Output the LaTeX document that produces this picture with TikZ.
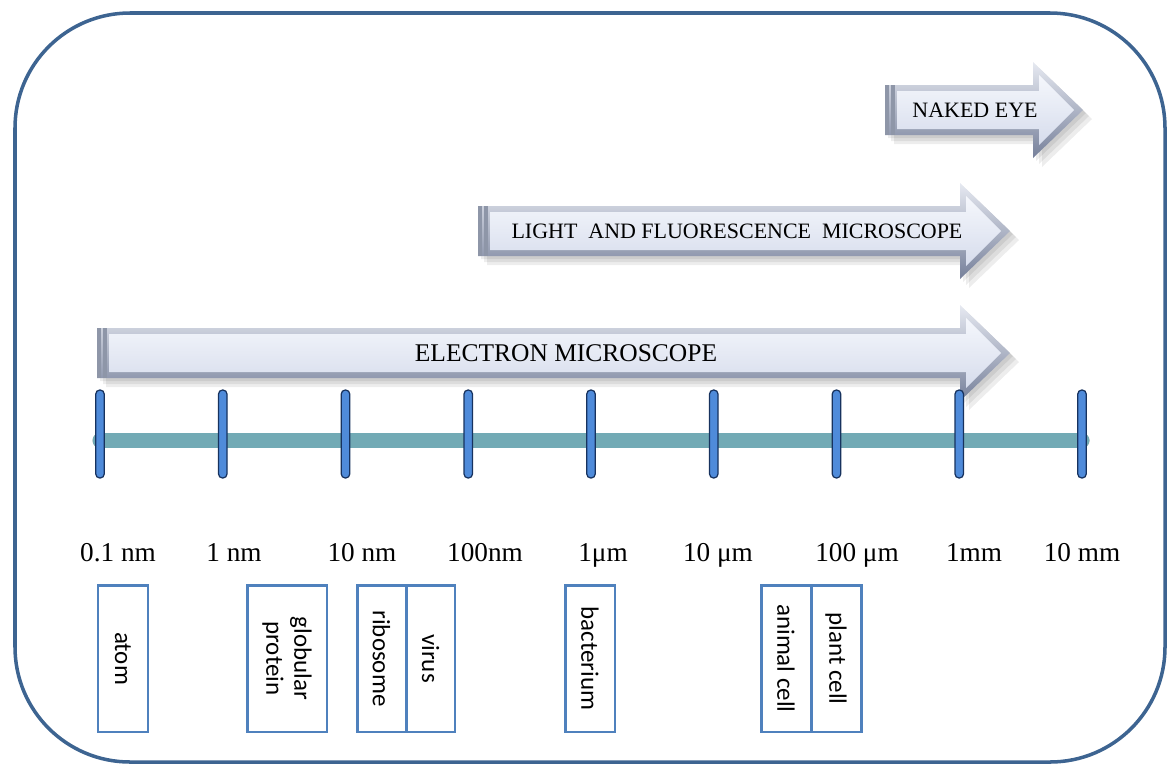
\documentclass[tikz,border=0pt]{standalone}
\usepackage{fontspec}
\setmainfont{Liberation Serif}
\newfontfamily\boxfont{Carlito}
\usetikzlibrary{calc}

\definecolor{framecol}{HTML}{3D6491}
\definecolor{barcol}{HTML}{72AAB5}
\definecolor{tickfill}{HTML}{4F8BDA}
\definecolor{tickdraw}{HTML}{17325E}
\definecolor{boxcol}{HTML}{4F81BD}
\definecolor{bevdark}{HTML}{76809A}
\definecolor{bevlight}{HTML}{E6E9F1}
\definecolor{facetop}{HTML}{F5F7FC}
\definecolor{facebot}{HTML}{D6DCEC}
\definecolor{stripe}{HTML}{8E96A8}

\tikzset{
  outerframe/.style={draw=framecol, line width=2pt, rounded corners=2.3cm},
  scalebar/.style={draw=barcol, line width=0.3cm, line cap=round},
  scaletick/.style={draw=tickdraw, fill=tickfill, line width=0.7pt, rounded corners=0.08cm,
    minimum width=0.17cm, minimum height=1.76cm, inner sep=0},
  scalelabel/.style={font=\fontsize{15.5}{18}\selectfont, inner sep=0, anchor=base},
  cellbox/.style={draw=boxcol, line width=1.7pt, rotate=-90, minimum width=2.94cm,
    inner sep=0, align=center, font=\boxfont\fontsize{14.2}{16}\selectfont},
  arrowtext/.style={font=\fontsize{12.5}{14}\selectfont, inner sep=0}
}

% outline of a block arrow: left end, head back, tip, centre line
\newcommand{\arrowshape}[4]{(#1,#4-25) -- (#2,#4-25) -- (#2,#4-48) -- (#3,#4)
  -- (#2,#4+48) -- (#2,#4+25) -- (#1,#4+25) -- cycle}

% bevelled arrow: left, head back, tip, centre y, name, text, text x
\newcommand{\bevelarrow}[7]{%
  \foreach \s in {3,6,9}
    \fill[black, opacity=0.07, shift={(\s,\s)}] \arrowshape{#1}{#2}{#3}{#4};
  \shade[top color=bevlight, bottom color=bevdark] \arrowshape{#1}{#2}{#3}{#4};
  \shade[top color=facetop, bottom color=facebot] ({#1+12},#4-19) -- ({#2+6},#4-19)
    -- ({#2+6},#4-35) -- ({#3-9},#4) -- ({#2+6},#4+35) -- ({#2+6},#4+19)
    -- ({#1+12},#4+19) -- cycle;
  \fill[stripe] (#1,#4-25) rectangle ({#1+4},#4+25);
  \fill[stripe] ({#1+6},#4-25) rectangle ({#1+10},#4+25);
  \node[arrowtext] (#5) at (#7,#4) {#6};
}

\begin{document}
\begin{tikzpicture}[x=0.02cm, y=-0.02cm]
    \useasboundingbox (0,0) rectangle (1169,765);

    % Frame
    \draw[outerframe] (15,13) rectangle (1165,762);

    % Arrows
    \bevelarrow{885}{1033}{1083}{110}{eye}{NAKED EYE}{975}
    \bevelarrow{478}{960}{1010}{231}{light}{LIGHT\ \ AND FLUORESCENCE\ \ MICROSCOPE}{737}
    \bevelarrow{97}{960}{1010}{353}{electron}{\fontsize{14.5}{16}\selectfont ELECTRON MICROSCOPE}{566}

    % Axis
    \coordinate (a0) at (100,440.5);
    \coordinate (a1) at (1082,440.5);
    \draw[scalebar, draw=brown!60!gray, opacity=0.5, shift={(0,4)}] (a0) -- (a1);
    \draw[scalebar] (a0) -- (a1);
    \foreach \i in {1,...,9}
        \node[scaletick] (t\i) at ({100+122.75*(\i-1)},434) {};

    % Labels
    \foreach \n/\x/\t in {l1/118/0.1 nm, l2/234/1 nm, l3/362/10 nm, l4/485/100nm,
        l5/603/1μm, l6/718/10 μm, l7/857/100 μm, l8/974/1mm, l9/1082/10 mm}
        \node[scalelabel] (\n) at (\x,561) {\t};

    % Boxes
    \node[cellbox, minimum height=1cm] (atom) at (123,658.5) {atom};
    \node[cellbox, minimum height=1.6cm] (protein) at (287,658.5) {globular\\protein};
    \node[cellbox, minimum height=0.98cm] (ribosome) at (381.5,658.5) {ribosome};
    \node[cellbox, minimum height=0.98cm] (virus) at (430.5,658.5) {virus};
    \node[cellbox, minimum height=1cm] (bacterium) at (590,658.5) {bacterium};
    \node[cellbox, minimum height=1cm] (animal) at (786,658.5) {animal cell};
    \node[cellbox, minimum height=1cm] (plant) at (836,658.5) {plant cell};
\end{tikzpicture}
\end{document}
